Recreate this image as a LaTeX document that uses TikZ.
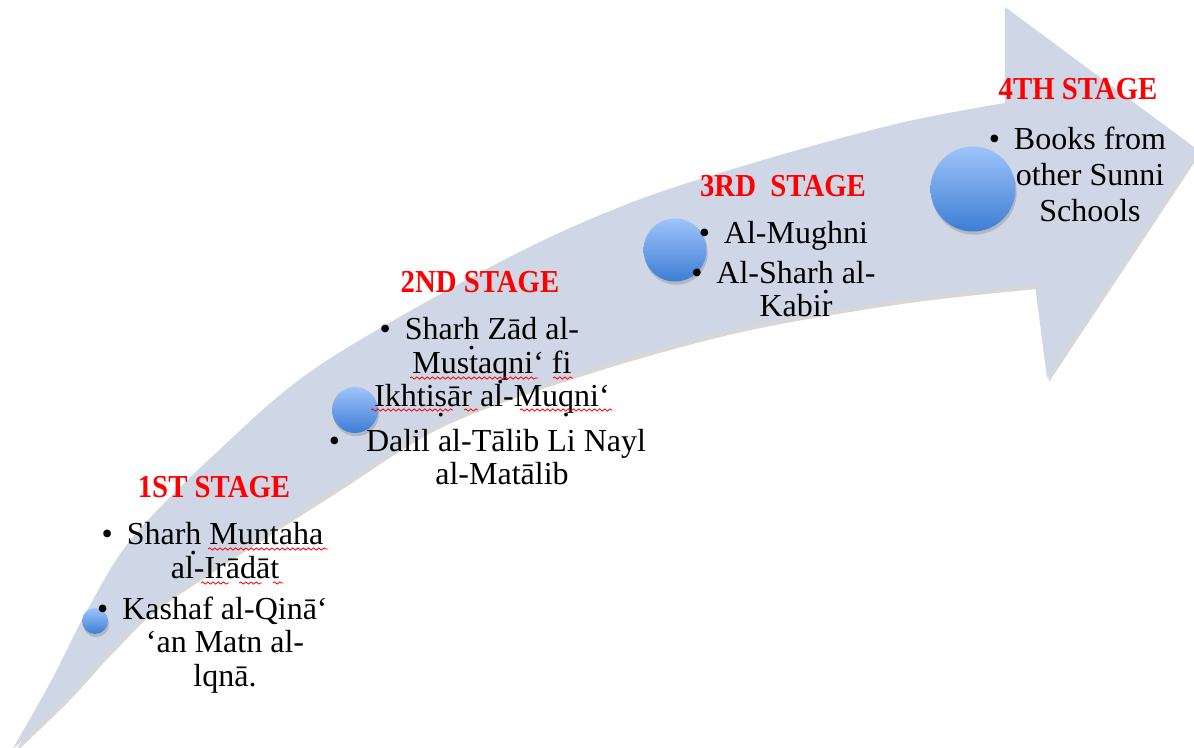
\documentclass[tikz,border=0pt]{standalone}
\usepackage{fontspec}
\setmainfont{Liberation Serif}
\newfontfamily\titlefont[FakeStretch=0.9]{Liberation Serif}
\usetikzlibrary{shadows,decorations.pathmorphing}
\definecolor{bandfill}{RGB}{207,214,230}
\definecolor{balltop}{RGB}{158,196,250}
\definecolor{ballbot}{RGB}{62,125,212}
\definecolor{stagered}{RGB}{255,0,0}
\newcommand\ud[1]{\ooalign{#1\cr\hidewidth\raisebox{-0.3em}{.}\hidewidth\cr}}
\newcommand\bul[1][7pt]{\llap{\textbullet\hspace{#1}}}
\begin{document}
\begin{tikzpicture}[x=0.5pt,y=-0.5pt,
  title/.style={font=\titlefont\bfseries\fontsize{16}{16.5}\selectfont, text=stagered, inner sep=0pt, anchor=base},
  item/.style={font=\fontsize{16}{16.75}\selectfont, align=center, inner sep=0pt, anchor=base},
  ball/.style={circle, inner sep=0pt, top color=balltop, bottom color=ballbot, draw=none,
    drop shadow={opacity=0.35, shadow xshift=0.6pt, shadow yshift=-1.6pt}},
  wavy/.style={draw=red, line width=0.4pt, decorate, decoration={snake, segment length=2.6pt, amplitude=0.55pt}}]
\useasboundingbox (0,0) rectangle (1194,748);
% shadow of the arrow
\begin{scope}[shift={(2,4)}]
\fill[gray!70, opacity=0.45] plot[smooth,tension=0.55] coordinates {(12,750) (50,683) (90,605) (133,537) (217,452) (320,365) (500,262) (630,203) (763,160) (900,123) (1005,103)} -- (1005,7) -- (1198,150) -- (1047,378) -- (1035,285) -- plot[smooth,tension=0.55] coordinates {(1035,285) (900,300) (740,328) (587,370) (443,422) (330,492) (167,598) (115,645) (67,697) (12,750)} -- cycle;
\end{scope}
% the arrow
\fill[bandfill] plot[smooth,tension=0.55] coordinates {(12,750) (50,683) (90,605) (133,537) (217,452) (320,365) (500,262) (630,203) (763,160) (900,123) (1005,103)} -- (1005,7) -- (1198,150) -- (1047,378) -- (1035,285) -- plot[smooth,tension=0.55] coordinates {(1035,285) (900,300) (740,328) (587,370) (443,422) (330,492) (167,598) (115,645) (67,697) (12,750)} -- cycle;
% circles
\node[ball, minimum size=13pt] (c1) at (95,621) {};
\node[ball, minimum size=23pt] (c2) at (355,410) {};
\node[ball, minimum size=31.5pt] (c3) at (675,250) {};
\node[ball, minimum size=42.5pt] (c4) at (973,189) {};
% titles
\node[title] (t1) at (214,497) {1ST STAGE};
\node[title] (t2) at (480,293) {2ND STAGE};
\node[title] (t3) at (783,197) {3RD\ \ STAGE};
\node[title] (t4) at (1078,100) {4TH STAGE};
% items (anchored at the baseline of their last line)
\node[item] (i1a) at (225,578) {\bul Shar\ud{h} Muntaha\\al-Irādāt};
\node[item] (i1b) at (225,686) {\bul Kashaf al-Qinā‘\\‘an Matn al-\\lqnā.};
\node[item] (i2a) at (492,407) {\bul Shar\ud{h} Zād al-\\Musta\ud{q}ni‘ fi\\Ikhti\ud{s}ār al-Mu\ud{q}ni‘};
\node[item] (i2b) at (502,485) {\bul[9pt] Dalil al-Tālib Li Nayl\\al-Matālib};
\node[item] (i3a) at (796,244) {\bul Al-Mughni};
\node[item] (i3b) at (796,317) {\bul Al-Shar\ud{h} al-\\Kabir};
\node[item, font=\fontsize{16}{18}\selectfont] (i4) at (1090,222) {\bul Books from\\other Sunni\\Schools};
% spell-check underlines
\draw[wavy] (208,549) -- (328,549);
\draw[wavy] (201,583) -- (229,583);
\draw[wavy] (239,583) -- (262,583);
\draw[wavy] (273,583) -- (283,583);
\draw[wavy] (410,378) -- (538,378);
\draw[wavy] (553,378) -- (573,378);
\draw[wavy] (371,410) -- (453,410);
\draw[wavy] (464,410) -- (478,410);
\draw[wavy] (520,410) -- (612,410);
\end{tikzpicture}
\end{document}
